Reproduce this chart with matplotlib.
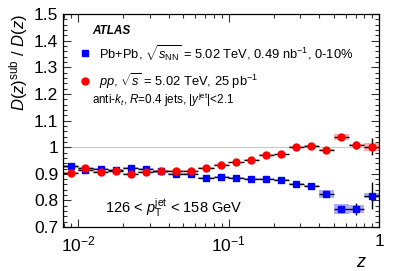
import numpy as np
import matplotlib
matplotlib.use("Agg")
import matplotlib.pyplot as plt
from matplotlib.patches import Rectangle
from matplotlib.ticker import MultipleLocator, LogLocator, FixedLocator, FixedFormatter

plt.rcParams['font.family'] = ['Liberation Sans', 'DejaVu Sans']
plt.rcParams['mathtext.fontset'] = 'custom'
plt.rcParams['mathtext.rm'] = 'Liberation Sans'
plt.rcParams['mathtext.it'] = 'Liberation Sans:italic'
plt.rcParams['mathtext.bf'] = 'Liberation Sans:bold'

# bin centres in z
z = [0.00891, 0.0112, 0.0141, 0.0178, 0.0224, 0.0282, 0.0355, 0.0447, 0.0562, 0.0708,
     0.0891, 0.112, 0.141, 0.178, 0.224, 0.282, 0.355, 0.447, 0.562, 0.708, 0.891]

pbpb = [0.929, 0.914, 0.917, 0.914, 0.923, 0.918, 0.909, 0.898, 0.900, 0.883,
        0.889, 0.884, 0.880, 0.882, 0.876, 0.863, 0.854, 0.825, 0.767, 0.767, 0.818]
pbpb_stat = [0.006, 0.004, 0.003, 0.003, 0.003, 0.003, 0.003, 0.003, 0.003, 0.003,
             0.003, 0.003, 0.003, 0.003, 0.003, 0.004, 0.004, 0.006, 0.010, 0.023, 0.050]
pbpb_sys = [0.006, 0.005, 0.004, 0.004, 0.004, 0.004, 0.004, 0.004, 0.004, 0.004,
            0.004, 0.004, 0.004, 0.004, 0.004, 0.004, 0.005, 0.014, 0.019, 0.015, 0.010]

pp = [0.904, 0.921, 0.907, 0.912, 0.899, 0.908, 0.912, 0.911, 0.912, 0.922,
      0.933, 0.943, 0.953, 0.972, 0.973, 1.001, 1.006, 0.991, 1.039, 1.008, 1.002]
pp_stat = [0.003, 0.003, 0.003, 0.003, 0.003, 0.003, 0.003, 0.003, 0.003, 0.003,
           0.003, 0.003, 0.003, 0.003, 0.003, 0.003, 0.003, 0.004, 0.006, 0.014, 0.031]
pp_sys = [0.003, 0.003, 0.003, 0.003, 0.003, 0.003, 0.003, 0.003, 0.003, 0.003,
          0.003, 0.003, 0.003, 0.003, 0.003, 0.003, 0.003, 0.004, 0.011, 0.005, 0.015]

xticks = [0.01, 0.1, 1.0]
xticklabels = [r'$10^{-2}$', r'$10^{-1}$', '1']

half_bin = 10 ** 0.05

fig = plt.figure(figsize=(3.99, 2.71), dpi=100)
ax = fig.add_axes([0.158, 0.162, 0.792, 0.786])

ax.axhline(1.0, color='#c8c8c8', lw=0.8, zorder=0)

z_arr = np.array(z)
lo = z_arr / half_bin
hi = z_arr * half_bin

for series, sys, col in [(pbpb, pbpb_sys, '#9999ff'), (pp, pp_sys, '#ff9a9a')]:
    for x0, x1, y, s in zip(lo, hi, series, sys):
        ax.add_patch(Rectangle((x0, y - s), x1 - x0, 2 * s, facecolor=col,
                               edgecolor='none', alpha=0.8, zorder=1))

xerr = [z_arr - lo, hi - z_arr]
ax.errorbar(z, pbpb, yerr=pbpb_stat, xerr=xerr, fmt='s', color='#0000ff',
            ecolor='black', elinewidth=1.0, capsize=0, ms=4.3, mec='#0000ff',
            zorder=3)
ax.errorbar(z, pp, yerr=pp_stat, xerr=xerr, fmt='o', color='#ff0000',
            ecolor='black', elinewidth=1.0, capsize=0, ms=5.0, mec='#ff0000',
            zorder=3)

ax.set_xscale('log')
ax.set_xlim(10 ** -2.1, 1.0)
ax.set_ylim(0.7, 1.5)

ax.xaxis.set_major_locator(FixedLocator(xticks))
ax.xaxis.set_major_formatter(FixedFormatter(xticklabels))
ax.xaxis.set_minor_locator(LogLocator(base=10, subs=np.arange(2, 10)))
ax.xaxis.set_minor_formatter(plt.NullFormatter())
ax.yaxis.set_major_locator(MultipleLocator(0.1))
ax.yaxis.set_minor_locator(MultipleLocator(0.02))
ax.yaxis.set_major_formatter(plt.FuncFormatter(lambda v, p: ('%g' % round(v, 2))))

ax.tick_params(which='both', direction='in', top=True, right=True, labelsize=12.5,
               width=0.8, color='#333333')
ax.tick_params(which='major', length=6)
ax.tick_params(which='minor', length=3)
ax.tick_params(axis='x', which='major', pad=5)
for sp in ax.spines.values():
    sp.set_linewidth(0.9)

ax.set_ylabel(r'$D(z)^{\mathrm{sub}}$ / $D(z)$', fontsize=12, loc='top', labelpad=3)
ax.set_xlabel(r'$z$', fontsize=13, loc='right', labelpad=0)
ax.xaxis.label.set_x(0.962)

tr = ax.transAxes
ax.text(0.091, 0.92, 'ATLAS', fontsize=8.5, fontweight='bold', fontstyle='italic',
        transform=tr, va='center', ha='left')
ax.plot([0.070], [0.815], 's', color='#0000ff', ms=4.3, transform=tr, clip_on=False)
ax.text(0.114, 0.815, r'Pb+Pb, $\sqrt{s_{\mathrm{NN}}}$ = 5.02 TeV, 0.49 nb$^{-1}$, 0-10%',
        fontsize=9.3, transform=tr, va='center', ha='left')
ax.plot([0.070], [0.685], 'o', color='#ff0000', ms=5.0, transform=tr, clip_on=False)
ax.text(0.114, 0.685, r'$pp$, $\sqrt{s}$ = 5.02 TeV, 25 pb$^{-1}$',
        fontsize=9.3, transform=tr, va='center', ha='left')
ax.text(0.091, 0.595, r'anti-$k_{t}$, $R$=0.4 jets, $|y^{\mathrm{jet}}|$<2.1',
        fontsize=8.4, transform=tr, va='center', ha='left')
ax.text(0.133, 0.089, r'126 < $p_{\mathrm{T}}^{\mathrm{jet}}$ < 158 GeV',
        fontsize=10.5, transform=tr, va='center', ha='left')

fig.savefig('out.png', dpi=100)
